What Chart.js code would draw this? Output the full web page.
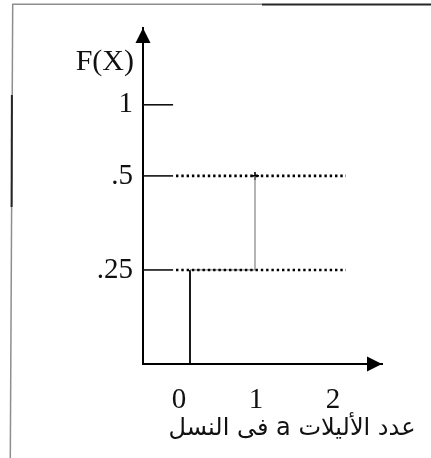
<!DOCTYPE html>
<html>
<head>
<meta charset="utf-8">
<script src="https://cdn.jsdelivr.net/npm/chart.js@4/dist/chart.umd.min.js"></script>
<style>
  html, body { margin: 0; padding: 0; background: #fff; overflow: hidden; }
  #wrap { position: relative; width: 431px; height: 458px; }
</style>
</head>
<body>
<div id="wrap"><canvas id="cdf" width="431" height="458"></canvas></div>
<script>
// Cumulative distribution F(X) of the number of "a" alleles in the offspring
const riseX = [0, 0];            // first jump at X = 0
const riseF = [0, 0.25];
const stepX = [0, 1, 1];         // flat step, then jump at X = 1
const stepF = [0.25, 0.25, 0.5];
const guideLevels = [0.25, 0.5]; // dotted reference levels
const markLevels = [0.25, 0.5, 1];
const yTickValues = [0.25, 0.5, 1];
const yTickLabels = ['.25', '.5', '1'];
const xTickValues = [0, 1, 2];
const xTickLabels = ['0', '1', '2'];
const yTitle = 'F(X)';
const xTitle = 'عدد الأليلات a فى النسل';

// extents of the reference lines, in X units
const GUIDE_FROM = -0.215, GUIDE_TO = 2.4, MARK_TO = -0.26;
const X_MIN = -0.723, X_MAX = 2.954;
const LABEL_MIN = -0.4675, LABEL_MAX = 2.636;

// vertical axis is compressed above .5 so that 1 still fits under the arrow
const BREAK = 0.5, SQUEEZE = 0.378;
const squash = v => v <= BREAK ? v : BREAK + (v - BREAK) * SQUEEZE;
const unsquash = s => s <= BREAK ? s : BREAK + (s - BREAK) / SQUEEZE;

class BrokenLinearScale extends Chart.LinearScale {
  getPixelForValue(value) {
    if (value === null || value === undefined || isNaN(value)) return NaN;
    const lo = squash(this.min), hi = squash(this.max);
    return this.getPixelForDecimal((squash(value) - lo) / (hi - lo));
  }
  getValueForPixel(pixel) {
    const lo = squash(this.min), hi = squash(this.max);
    return unsquash(lo + this.getDecimalForPixel(pixel) * (hi - lo));
  }
}
BrokenLinearScale.id = 'brokenLinear';
BrokenLinearScale.defaults = Chart.LinearScale.defaults;
Chart.register(BrokenLinearScale);

const SERIF = '"Liberation Serif", "Times New Roman", serif';
const pts = (xs, ys) => xs.map((x, i) => ({ x, y: ys[i] }));

const datasets = [];
// short solid marks next to the axis
markLevels.forEach(l => datasets.push({
  data: [{ x: X_MIN, y: l }, { x: MARK_TO, y: l }],
  borderColor: '#111', borderWidth: 1.6, pointRadius: 0, clip: false
}));
// dotted level lines
guideLevels.forEach(l => datasets.push({
  data: [{ x: GUIDE_FROM, y: l }, { x: GUIDE_TO, y: l }],
  borderColor: '#000', borderWidth: 2.6, borderDash: [2.4, 2.9], pointRadius: 0
}));
// the step function
datasets.push({
  data: pts(stepX, stepF),
  borderColor: '#8c8c8c', borderWidth: 1.3, pointRadius: 0
});
datasets.push({
  data: pts(riseX, riseF),
  borderColor: '#000', borderWidth: 1.8, pointRadius: 0
});
datasets.push({
  data: [{ x: stepX[stepX.length - 1], y: stepF[stepF.length - 1] }],
  showLine: false, pointStyle: 'cross', pointRadius: 4,
  borderColor: '#000', borderWidth: 1.6, backgroundColor: '#000'
});

const decorations = {
  id: 'decorations',
  beforeDraw(chart) {
    const ctx = chart.ctx;
    ctx.save();
    ctx.lineCap = 'butt';
    // page frame
    ctx.strokeStyle = '#8e8e8e'; ctx.lineWidth = 1.5;
    ctx.beginPath(); ctx.moveTo(12.7, 4.3); ctx.lineTo(10.3, 458); ctx.stroke();
    ctx.beginPath(); ctx.moveTo(12, 4.3); ctx.lineTo(262, 4.3); ctx.stroke();
    ctx.strokeStyle = '#262626'; ctx.lineWidth = 2;
    ctx.beginPath(); ctx.moveTo(262, 4.5); ctx.lineTo(431, 4.5); ctx.stroke();
    ctx.beginPath(); ctx.moveTo(11.9, 95); ctx.lineTo(11.6, 207); ctx.stroke();
    ctx.restore();
  },
  afterDraw(chart) {
    const ctx = chart.ctx, a = chart.chartArea;
    ctx.save();
    ctx.fillStyle = '#000';
    // arrow heads on both axes
    ctx.beginPath();
    ctx.moveTo(a.left, a.top);
    ctx.lineTo(a.left - 7.5, a.top + 15);
    ctx.lineTo(a.left + 7.5, a.top + 15);
    ctx.closePath(); ctx.fill();
    ctx.beginPath();
    ctx.moveTo(a.right, a.bottom);
    ctx.lineTo(a.right - 15, a.bottom - 7.5);
    ctx.lineTo(a.right - 15, a.bottom + 7.5);
    ctx.closePath(); ctx.fill();
    // axis titles
    ctx.fillStyle = '#111';
    ctx.font = '30px ' + SERIF;
    ctx.textAlign = 'right'; ctx.textBaseline = 'middle';
    ctx.fillText(yTitle, a.left - 9, a.top + 34);
    ctx.direction = 'rtl';
    ctx.font = '24px "DejaVu Sans", sans-serif';
    ctx.textAlign = 'center'; ctx.textBaseline = 'middle';
    ctx.fillText(xTitle, 292, 429);
    ctx.restore();
  }
};

new Chart(document.getElementById('cdf'), {
  type: 'line',
  data: { datasets },
  options: {
    responsive: false,
    devicePixelRatio: 1,
    animation: false,
    events: [],
    layout: { padding: { left: 0, top: 28, right: 49, bottom: 0 } },
    plugins: { legend: { display: false }, tooltip: { enabled: false }, title: { display: false } },
    elements: { line: { tension: 0 } },
    scales: {
      x: {
        type: 'linear', display: false, min: X_MIN, max: X_MAX
      },
      xLabels: {
        type: 'linear', position: 'bottom', min: LABEL_MIN, max: LABEL_MAX,
        grid: { display: false, drawTicks: false },
        border: { display: true, color: '#000', width: 2 },
        afterBuildTicks: s => { s.ticks = xTickValues.map(v => ({ value: v })); },
        afterFit: s => { s.height = 94; },
        ticks: {
          padding: 19, color: '#111', font: { family: SERIF, size: 29 },
          callback: (v) => xTickLabels[xTickValues.indexOf(v)] ?? ''
        }
      },
      y: {
        type: 'brokenLinear', position: 'left', min: 0, max: 1.54,
        grid: { display: false, drawTicks: false },
        border: { display: true, color: '#000', width: 2 },
        afterBuildTicks: s => { s.ticks = yTickValues.map(v => ({ value: v })); },
        afterFit: s => { s.width = 143; },
        ticks: {
          padding: 10, color: '#111', font: { family: SERIF, size: 29 },
          callback: (v) => yTickLabels[yTickValues.indexOf(v)] ?? ''
        }
      }
    }
  },
  plugins: [decorations]
});
</script>
</body>
</html>
